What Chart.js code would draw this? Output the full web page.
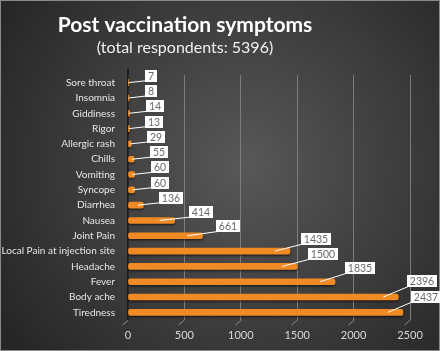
<!DOCTYPE html>
<html>
<head>
<meta charset="utf-8">
<script src="https://cdn.jsdelivr.net/npm/chart.js@4/dist/chart.umd.min.js"></script>
<style>
  html, body { margin: 0; padding: 0; background: #2a2a2a; }
  #wrap { width: 440px; height: 351px; position: relative; }
</style>
</head>
<body>
<div id="wrap"><canvas id="chart" width="440" height="351"></canvas></div>
<script>
// data, top to bottom as shown
const symptoms = [
  'Sore throat', 'Insomnia', 'Giddiness', 'Rigor', 'Allergic rash',
  'Chills', 'Vomiting', 'Syncope', 'Diarrhea', 'Nausea', 'Joint Pain',
  'Local Pain at injection site', 'Headache', 'Fever', 'Body ache', 'Tiredness'
];
const counts = [7, 8, 14, 13, 29, 55, 60, 60, 136, 414, 661, 1435, 1500, 1835, 2396, 2437];
const xTicks = [0, 500, 1000, 1500, 2000, 2500];
const titleText = 'Post vaccination symptoms';
const subtitleText = '(total respondents: 5396)';

const FONT = 'Lato, "Open Sans", sans-serif';

// background + border + titles
const backdrop = {
  id: 'backdrop',
  beforeDraw(chart) {
    const { ctx, width, height } = chart;
    ctx.save();
    const g = ctx.createRadialGradient(245, 165, 0, 245, 165, 290);
    g.addColorStop(0, '#585858');
    g.addColorStop(1, '#262626');
    ctx.fillStyle = g;
    ctx.fillRect(0, 0, width, height);
    ctx.strokeStyle = '#8a8a8a';
    ctx.lineWidth = 1;
    ctx.strokeRect(0.5, 0.5, width - 1, height - 1);

    ctx.textAlign = 'center';
    ctx.textBaseline = 'middle';
    ctx.fillStyle = '#ffffff';
    ctx.font = 'bold 21px ' + FONT;
    ctx.fillText(titleText, 185, 25);
    ctx.fillStyle = '#f0f0f0';
    ctx.font = '16px ' + FONT;
    ctx.fillText(subtitleText, 185, 48);
    ctx.restore();
  }
};

// slanted floor marks under each gridline, dark wall edge at zero
const floorLines = {
  id: 'floorLines',
  beforeDatasetsDraw(chart) {
    const { ctx, chartArea } = chart;
    const xs = chart.scales.x;
    ctx.save();
    ctx.strokeStyle = '#8a8a8a';
    ctx.lineWidth = 1;
    xTicks.forEach(v => {
      const x = Math.round(xs.getPixelForValue(v)) + 0.5;
      ctx.beginPath();
      ctx.moveTo(x, chartArea.bottom);
      ctx.lineTo(x - 6, chartArea.bottom + 5);
      ctx.stroke();
    });
    const z = Math.round(xs.getPixelForValue(0));
    ctx.strokeStyle = 'rgba(20,20,20,0.8)';
    ctx.lineWidth = 2;
    ctx.beginPath();
    ctx.moveTo(z, chartArea.top - 6);
    ctx.lineTo(z, chartArea.bottom);
    ctx.stroke();
    ctx.restore();
  }
};

// soft shadow under the bars
const barShadow = {
  id: 'barShadow',
  beforeDatasetsDraw(chart) {
    const ctx = chart.ctx;
    ctx.save();
    ctx.shadowColor = 'rgba(0,0,0,0.55)';
    ctx.shadowBlur = 2;
    ctx.shadowOffsetY = 1.5;
  },
  afterDatasetsDraw(chart) {
    chart.ctx.restore();
  }
};

// white callout labels
const callouts = {
  id: 'callouts',
  afterDatasetsDraw(chart) {
    const { ctx } = chart;
    const x0 = chart.scales.x.getPixelForValue(0);
    const meta = chart.getDatasetMeta(0);
    ctx.save();
    ctx.font = '10.5px ' + FONT;
    meta.data.forEach((bar, i) => {
      const v = counts[i];
      const end = bar.x;
      const y = bar.y;
      const txt = String(v);
      const w = Math.ceil(ctx.measureText(txt).width) + 5;
      const h = 12;
      const left = end + 16 - 8 * v / 2500;
      const cy = y - (7 + 9 * v / 2500);
      const top = cy - h / 2;
      const start = end - Math.min(15, (end - x0) * 0.35);

      ctx.strokeStyle = '#ffffff';
      ctx.lineWidth = 1;
      ctx.beginPath();
      ctx.moveTo(start, y);
      ctx.lineTo(left + 2, top + h - 1);
      ctx.stroke();

      ctx.fillStyle = '#ffffff';
      ctx.fillRect(Math.round(left), Math.round(top), w, h);
      ctx.fillStyle = '#6a6a6a';
      ctx.textAlign = 'center';
      ctx.textBaseline = 'middle';
      ctx.fillText(txt, Math.round(left) + w / 2, Math.round(top) + h / 2 + 0.5);
    });
    ctx.restore();
  }
};

function barFill(context) {
  const chart = context.chart;
  const el = context.element;
  if (!chart.chartArea || !el || el.y === undefined) return '#f08a24';
  const y = el.y;
  const g = chart.ctx.createLinearGradient(0, y - 3, 0, y + 3);
  g.addColorStop(0, '#ffb35c');
  g.addColorStop(0.45, '#f68b1f');
  g.addColorStop(1, '#c65f08');
  return g;
}

new Chart(document.getElementById('chart'), {
  type: 'bar',
  data: {
    labels: symptoms,
    datasets: [{
      data: counts,
      backgroundColor: barFill,
      barThickness: 6,
      borderRadius: 2,
      borderSkipped: false
    }]
  },
  options: {
    indexAxis: 'y',
    responsive: false,
    animation: false,
    layout: { padding: { top: 75, left: 0, right: 30, bottom: 0 } },
    plugins: {
      legend: { display: false },
      tooltip: { enabled: false },
      title: { display: false }
    },
    scales: {
      x: {
        min: 0,
        max: 2500,
        afterBuildTicks: s => { s.ticks = xTicks.map(v => ({ value: v })); },
        afterFit: s => { s.height = 31; },
        border: { display: false },
        grid: { color: '#7c7c7c', lineWidth: 1, drawTicks: false },
        ticks: {
          color: '#d8d8d8', padding: 9, font: { family: FONT, size: 11 },
          callback: v => String(v)
        }
      },
      y: {
        afterFit: s => { s.width = 128; },
        border: { display: false },
        grid: { display: false, drawTicks: false },
        ticks: { color: '#e6e6e6', padding: 13, autoSkip: false, font: { family: FONT, size: 10 } }
      }
    }
  },
  plugins: [backdrop, floorLines, barShadow, callouts]
});
</script>
</body>
</html>
